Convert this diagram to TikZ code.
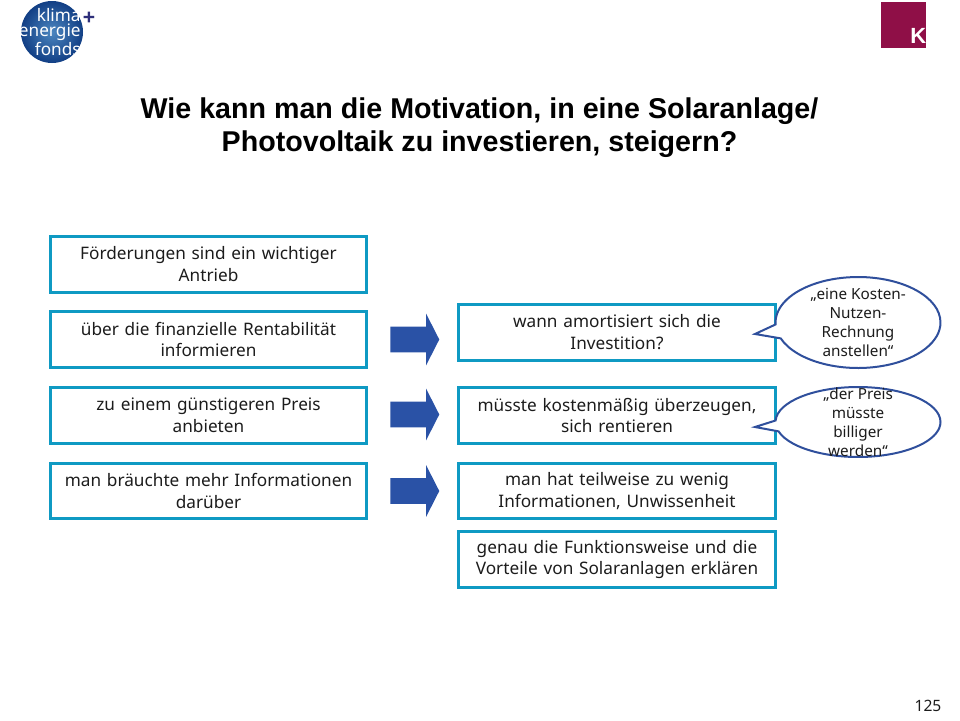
\documentclass[tikz,border=0pt]{standalone}
\usepackage{fontspec}
\setmainfont{Noto Sans}
\newfontfamily\titlefont{Liberation Sans Bold}
\usetikzlibrary{shapes.callouts,shapes.arrows}
\definecolor{boxblue}{HTML}{0F9AC3}
\definecolor{arrowblue}{HTML}{2A52A6}
\definecolor{bubbleblue}{HTML}{2F4F9C}
\definecolor{logoblue}{HTML}{1F68B0}
\definecolor{logodark}{HTML}{123F85}
\definecolor{logoplus}{HTML}{2E2F7A}
\definecolor{kred}{HTML}{8F0F47}
\definecolor{textdark}{HTML}{1C1C1C}
\tikzset{
  textbox/.style={draw=boxblue,line width=0.065cm,minimum width=6.33cm,minimum height=1.11cm,
    text width=6.3cm,align=center,inner sep=0pt,text=textdark,font=\fontsize{9.8}{12.5}\selectfont},
  bluearrow/.style={single arrow,fill=arrowblue,minimum height=0.98cm,single arrow tip angle=126,
    single arrow head extend=0.26cm,single arrow head indent=0pt,inner xsep=0pt,inner ysep=0.25cm,
    text height=0pt,text depth=0pt,text width=0pt},
  bubble/.style={ellipse callout,draw=bubbleblue,line width=0.04cm,fill=white,
    minimum width=3.3cm,inner sep=0pt,callout pointer arc=18},
  bubbletext/.style={align=center,text=textdark,font=\fontsize{8.7}{10.9}\selectfont,inner sep=0pt},
}
\begin{document}
\begin{tikzpicture}[x=0.02cm,y=-0.02cm]
\useasboundingbox (0,0) rectangle (960,720);
% logos
\shade[inner color=logoblue!80!white,outer color=logodark] (52,32) circle (31);
\node[text=white,font=\fontsize{9.8}{8.5}\selectfont,align=right,inner sep=0pt,anchor=east] (logotext) at (81,32) {klima\\energie\\fonds};
\node[text=logoplus,font=\titlefont\fontsize{12}{12}\selectfont,inner sep=0pt] (logoplus) at (89,18) {+};
\fill[kred] (881,2) rectangle (926,48);
\node[text=white,font=\titlefont\fontsize{12.5}{12.5}\selectfont,inner sep=0pt,anchor=south east] (klogo) at (926.5,44) {K};
% title
\node[align=center,text=black,font=\titlefont\fontsize{16.3}{18.6}\selectfont,inner sep=0pt] (title) at (479.5,127.5)
  {Wie kann man die Motivation, in eine Solaranlage/\\Photovoltaik zu investieren, steigern?};
% left column
\node[textbox] (foerderung) at (208.5,264.5) {Förderungen sind ein wichtiger\\Antrieb};
\node[textbox] (rentabel) at (208.5,339.5) {über die finanzielle Rentabilität\\informieren};
\node[textbox] (preis) at (208.5,415.5) {zu einem günstigeren Preis\\anbieten};
\node[textbox] (mehrinfo) at (208.5,491) {man bräuchte mehr Informationen\\darüber};
% right column
\node[textbox] (amort) at (617,332.5) {wann amortisiert sich die\\Investition?};
\node[textbox] (kosten) at (617,415.5) {müsste kostenmäßig überzeugen,\\sich rentieren};
\node[textbox] (wenig) at (617,491) {man hat teilweise zu wenig\\Informationen, Unwissenheit};
\node[textbox] (funktion) at (617,559.5) {genau die Funktionsweise und die\\Vorteile von Solaranlagen erklären};
% arrows
\node[bluearrow] (pfeilA) at (411.5,339.5) {};
\node[bluearrow] (pfeilB) at (411.5,414.5) {};
\node[bluearrow] (pfeilC) at (411.5,491) {};
% speech bubbles
\coordinate (spitzeA) at (755,334);
\coordinate (spitzeB) at (755,427);
\node[bubble,minimum height=1.82cm,callout absolute pointer={(spitzeA)}] (bubbleA) at (858,322.5) {};
\node[bubbletext] (zitatA) at (bubbleA.center) {„eine Kosten-\\Nutzen-\\Rechnung\\anstellen“};
\node[bubble,minimum height=1.4cm,callout absolute pointer={(spitzeB)}] (bubbleB) at (858,422) {};
\node[bubbletext] (zitatB) at (bubbleB.center) {„der Preis\\müsste\\billiger\\werden“};
% page number
\node[text=textdark,font=\fontsize{8.9}{9}\selectfont,inner sep=0pt] (seite) at (928,706) {125};
\end{tikzpicture}
\end{document}
